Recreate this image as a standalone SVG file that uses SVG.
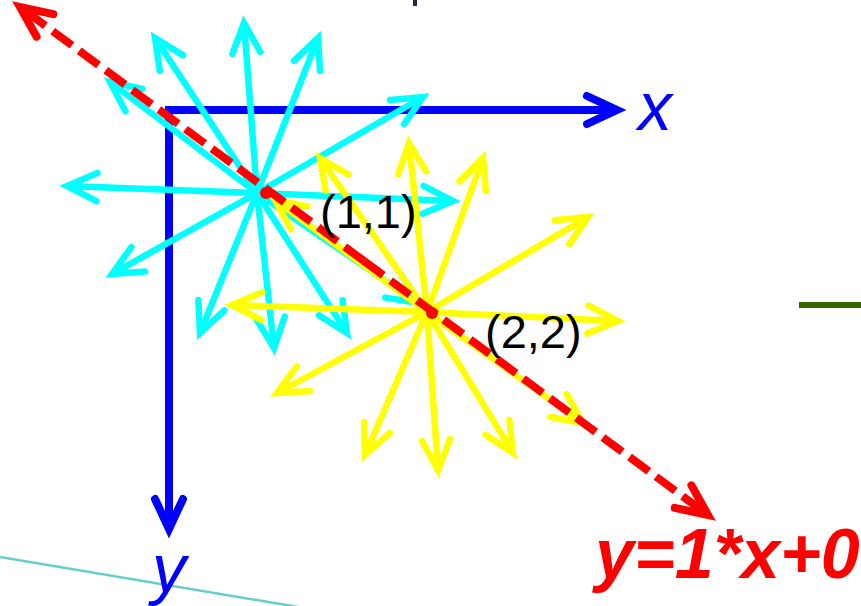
<svg xmlns="http://www.w3.org/2000/svg" width="861" height="606" viewBox="0 0 861 606">
<style>
.cy{stroke:#00FFFF;stroke-width:6.5;fill:none;marker-end:url(#mc)}
.ye{stroke:#FFFF00;stroke-width:6.5;fill:none;marker-end:url(#my)}
.ax{stroke:#0000FF;stroke-width:8;fill:none;marker-end:url(#mb)}
.lbl{font-family:"Liberation Sans",Arial,sans-serif;font-size:47px;fill:#000}
.axl{font-family:"Liberation Sans",Arial,sans-serif;font-size:68px;font-style:italic;fill:#0000FF}
</style>
<defs>
<marker id="mc" markerUnits="userSpaceOnUse" orient="auto" refX="0" refY="0" markerWidth="80" markerHeight="80" overflow="visible"><path d="M-30,-14 L0,0 L-30,14" fill="none" stroke="#00FFFF" stroke-width="6.5" stroke-linecap="round" stroke-linejoin="miter"/></marker>
<marker id="my" markerUnits="userSpaceOnUse" orient="auto" refX="0" refY="0" markerWidth="80" markerHeight="80" overflow="visible"><path d="M-30,-14 L0,0 L-30,14" fill="none" stroke="#FFFF00" stroke-width="6.5" stroke-linecap="round" stroke-linejoin="miter"/></marker>
<marker id="mb" markerUnits="userSpaceOnUse" orient="auto" refX="0" refY="0" markerWidth="80" markerHeight="80" overflow="visible"><path d="M-30,-14 L0,0 L-30,14" fill="none" stroke="#0000FF" stroke-width="8" stroke-linecap="round" stroke-linejoin="miter"/></marker>
<marker id="mr" markerUnits="userSpaceOnUse" orient="auto" refX="0" refY="0" markerWidth="80" markerHeight="80" overflow="visible"><path d="M-31,-14 L0,0 L-31,14" fill="none" stroke="#FF0000" stroke-width="8" stroke-linecap="round" stroke-linejoin="miter"/></marker>
</defs>
<rect width="861" height="606" fill="#fff"/>
<rect x="413" y="0" width="4" height="6" fill="#1f2d3a"/>
<line x1="799" y1="305" x2="861" y2="305" stroke="#336600" stroke-width="6"/>
<line x1="0" y1="557" x2="310" y2="609" stroke="#66CCCC" stroke-width="2.5"/>
<g id="axes">
<path class="ax" d="M169,110 L617,110"/>
<path class="ax" d="M169,106 L169,529"/>
<text class="axl" x="638" y="130">x</text>
<text class="axl" x="152" y="592">y</text>
</g>
<g id="star1">
<path class="cy" d="M257,193 L453,201"/>
<path class="cy" d="M257,193 L423,97"/>
<path class="cy" d="M257,193 L318,38"/>
<path class="cy" d="M257,193 L244,23"/>
<path class="cy" d="M257,193 L155,38"/>
<path class="cy" d="M257,193 L110,82"/>
<path class="cy" d="M257,193 L67,186"/>
<path class="cy" d="M257,193 L112,274"/>
<path class="cy" d="M257,193 L200,333"/>
<path class="cy" d="M257,193 L274,348"/>
<path class="cy" d="M257,193 L347,333"/>
<path class="cy" d="M257,193 L418,303"/>
</g>
<g id="star2">
<path class="ye" d="M427,312 L618,321"/>
<path class="ye" d="M427,312 L588,217"/>
<path class="ye" d="M427,312 L483,158"/>
<path class="ye" d="M427,312 L409,143"/>
<path class="ye" d="M427,312 L320,158"/>
<path class="ye" d="M427,312 L275,200"/>
<path class="ye" d="M427,312 L232,305"/>
<path class="ye" d="M427,312 L277,393"/>
<path class="ye" d="M427,312 L365,455"/>
<path class="ye" d="M427,312 L438,470"/>
<path class="ye" d="M427,312 L513,453"/>
<path class="ye" d="M427,312 L583,423"/>
</g>
<g id="connectors">
<path d="M364,261 L20,7" fill="none" stroke="#FF0000" stroke-width="8" stroke-dasharray="24 9" marker-end="url(#mr)"/>
<path d="M364,261 L708,515" fill="none" stroke="#FF0000" stroke-width="8" stroke-dasharray="24 9" marker-end="url(#mr)"/>
</g>
<g id="points">
<circle cx="266" cy="193" r="6" fill="#FF0000"/>
<circle cx="432" cy="313" r="6" fill="#FF0000"/>
<text class="lbl" x="320" y="228">(1,1)</text>
<text class="lbl" x="485" y="348">(2,2)</text>
</g>
<g id="equation">
<text x="595" y="578" font-family="'Liberation Sans',Arial,sans-serif" font-size="70" font-weight="bold" font-style="italic" fill="#FF0000">y=1*x+0</text>
</g>
</svg>
